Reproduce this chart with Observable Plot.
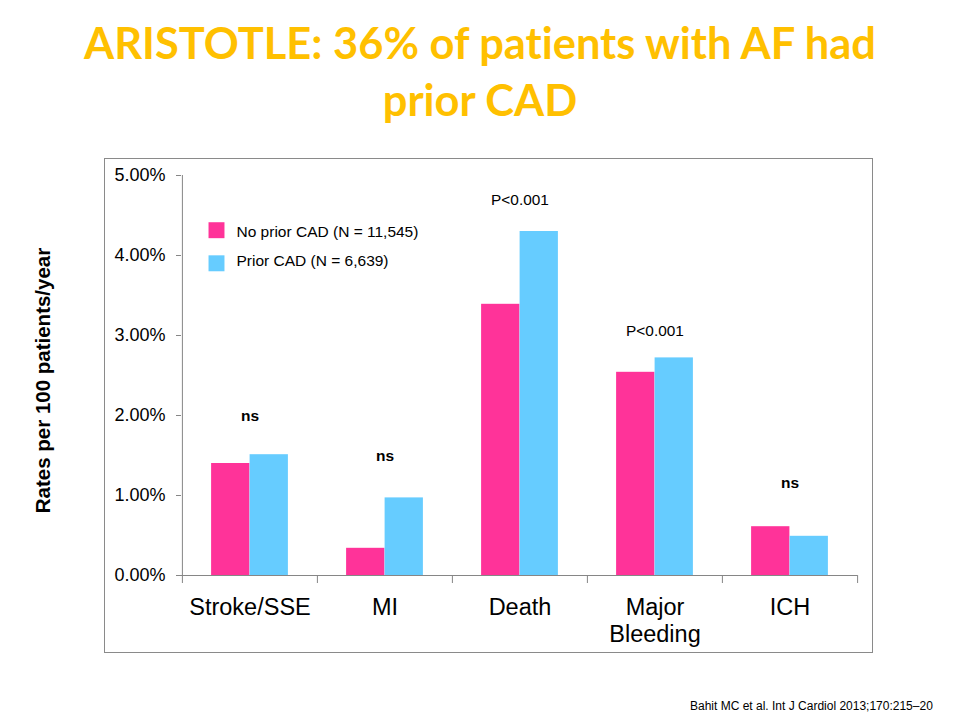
<!DOCTYPE html>
<html><head><meta charset="utf-8">
<script src="https://cdn.jsdelivr.net/npm/d3@7"></script>
<script src="https://cdn.jsdelivr.net/npm/@observablehq/plot@0.6"></script>
<style>
body{margin:0;background:#fff;}
#page{position:relative;width:960px;height:720px;overflow:hidden;font-family:"Liberation Sans",Arial,sans-serif;background:#fff;}
#title{position:absolute;left:0;top:14px;width:960px;text-align:center;font-family:Lato,"Open Sans",sans-serif;font-weight:700;color:#FFC000;font-size:40px;line-height:57px;font-variant-ligatures:none;}
#title span{white-space:nowrap;}
#box{position:absolute;left:104px;top:158px;width:767px;height:493px;border:1px solid #8a8a8a;}
#chart{position:absolute;left:0;top:140px;}
#cite{position:absolute;left:690px;top:699px;font-size:12px;color:#000;white-space:nowrap;}
</style></head>
<body>
<div id="page">
  <div id="title"><span id="t1">ARISTOTLE: 36% of patients with AF had</span><br><span id="t2">prior CAD</span></div>
  <div id="box"></div>
  <div id="chart"></div>
  <div id="cite">Bahit MC et al. Int J Cardiol 2013;170:215–20</div>
</div>
<script>
// ---- data ----
const categories = ["Stroke/SSE", "MI", "Death", "Major Bleeding", "ICH"];
const noPriorCAD = [1.40, 0.34, 3.39, 2.54, 0.61];
const priorCAD   = [1.51, 0.97, 4.30, 2.72, 0.49];
const seriesNames = ["No prior CAD (N = 11,545)", "Prior CAD (N = 6,639)"];
const seriesColors = ["#FF3399", "#66CCFF"];
const yTicks = [0, 1, 2, 3, 4, 5];
const pLabels = ["ns", "ns", "P<0.001", "P<0.001", "ns"];
const pLabelY = [1.93, 1.43, 4.63, 2.99, 1.09];
const yAxisLabel = "Rates per 100 patients/year";

// ---- title fit ----
const t1 = document.getElementById("t1");
const w1 = t1.getBoundingClientRect().width;
document.getElementById("title").style.fontSize = (40 * 792 / w1) + "px";

// ---- layout ----
const W = 960, H = 560, mL = 181, mR = 103, mT = 35, mB = 125;
const bw = (W - mL - mR) / categories.length;
const barW = 38.5;
const axisGrey = "#868686";

const rowsNo = categories.map((c, i) => ({category: c, value: noPriorCAD[i]}));
const rowsPr = categories.map((c, i) => ({category: c, value: priorCAD[i]}));
const annot = categories.map((c, i) => ({category: c, label: pLabels[i], y: pLabelY[i]}));

const chart = Plot.plot({
  width: W, height: H,
  marginLeft: mL, marginRight: mR, marginTop: mT, marginBottom: mB,
  style: {fontFamily: "'Liberation Sans', Arial, sans-serif", background: "transparent", overflow: "visible"},
  x: {domain: categories, padding: 0},
  y: {domain: [0, 5]},
  marks: [
    Plot.barY(rowsNo, {x: "category", y: "value", fill: seriesColors[0], insetLeft: bw / 2 - barW, insetRight: bw / 2}),
    Plot.barY(rowsPr, {x: "category", y: "value", fill: seriesColors[1], insetLeft: bw / 2, insetRight: bw / 2 - barW}),
    Plot.ruleY([0], {stroke: axisGrey}),
    Plot.ruleX([categories[0]], {dx: -bw / 2, stroke: axisGrey}),
    Plot.ruleX(categories, {dx: -bw / 2, y1: 0, y2: 0, insetBottom: -8, stroke: axisGrey}),
    Plot.ruleX([categories[categories.length - 1]], {dx: bw / 2, y1: 0, y2: 0, insetBottom: -8, stroke: axisGrey}),
    Plot.axisY({ticks: yTicks, tickFormat: d => d.toFixed(2) + "%", tickSize: 5, tickPadding: 11, fontSize: 18, stroke: axisGrey, color: "black", label: null}),
    Plot.axisX({tickSize: 0, tickPadding: 20, fontSize: 23.5, lineHeight: 1.15, color: "black", label: null,
      tickFormat: d => d === "Major Bleeding" ? "Major\nBleeding" : d}),
    Plot.text(annot.filter(d => d.label === "ns"), {x: "category", y: "y", text: "label", lineAnchor: "bottom", fontWeight: "bold", fontSize: 15.5, fill: "black"}),
    Plot.text(annot.filter(d => d.label !== "ns"), {x: "category", y: "y", text: "label", lineAnchor: "bottom", fontSize: 15.4, fill: "black"}),
    Plot.text([yAxisLabel], {frameAnchor: "left", textAnchor: "middle", lineAnchor: "middle", rotate: -90, dx: -138, dy: 5, fontWeight: "bold", fontSize: 20.5, fill: "black"}),
    Plot.dot([seriesNames[0]], {frameAnchor: "top-left", dx: 35, dy: 54.7, symbol: "square", r: 9, fill: seriesColors[0]}),
    Plot.dot([seriesNames[1]], {frameAnchor: "top-left", dx: 35, dy: 87.8, symbol: "square", r: 9, fill: seriesColors[1]}),
    Plot.text([seriesNames[0]], {frameAnchor: "top-left", dx: 55, dy: 56.5, textAnchor: "start", lineAnchor: "middle", fontSize: 15.5, fill: "black"}),
    Plot.text([seriesNames[1]], {frameAnchor: "top-left", dx: 55, dy: 85.5, textAnchor: "start", lineAnchor: "middle", fontSize: 15.5, fill: "black"})
  ]
});
document.getElementById("chart").appendChild(chart);
</script>
</body></html>
